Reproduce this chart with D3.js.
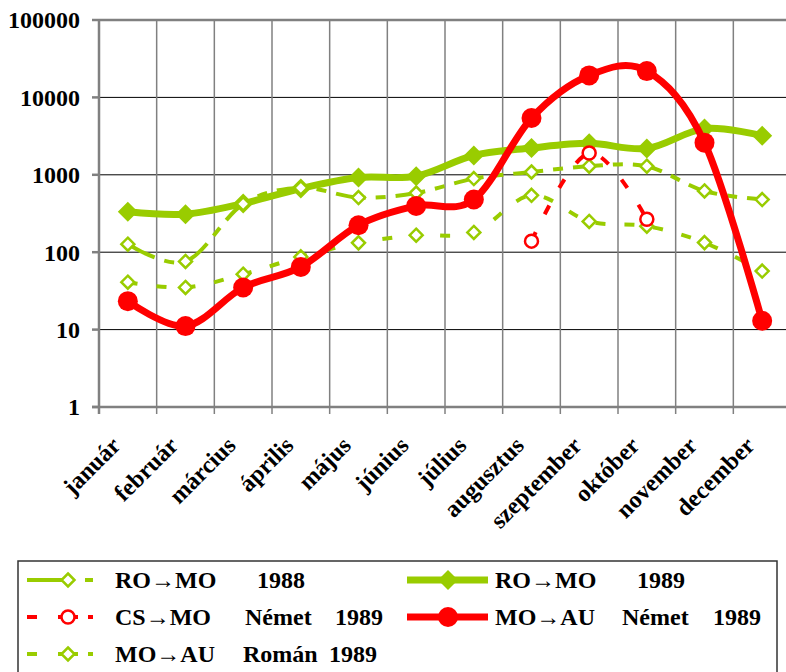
<!DOCTYPE html>
<meta charset="utf-8">
<html lang="hu">
  <head>
    <style>
      body { margin: 0; background-color: #fff; }
      svg text { font-family: 'Liberation Serif', 'DejaVu Serif', 'Times New Roman', serif; font-weight: 700; fill: #000; }
      .grid-h { stroke: #000; stroke-width: 1px; }
      .grid-v { stroke: #808080; stroke-width: 1.5px; }
      .axis-line { stroke: #808080; stroke-width: 2.5px; }
    </style>
  </head>
  <body>
    <script src="https://cdn.jsdelivr.net/npm/d3@7"></script>
    <svg></svg>
    <script>

      // data
      var months = ["január", "február", "március", "április", "május", "június",
        "július", "augusztus", "szeptember", "október", "november", "december"];
      var yTicks = [1, 10, 100, 1000, 10000, 100000];

      var roMo1988 = [127, 76, 420, 680, 508, 582, 893, 1087, 1290, 1290, 618, 479];
      var roMo1989 = [333, 310, 425, 664, 920, 960, 1780, 2220, 2550, 2190, 3950, 3200];
      var csMoNemet1989 = [null, null, null, null, null, null, null, 139, 1910, 267, null, null];
      var moAuNemet1989 = [23.3, 11.1, 35, 64.6, 223, 396, 479, 5410, 19230, 21870, 2600, 13];
      var moAuRoman1989 = [41, 35, 52, 87, 132, 166, 180, 544, 250, 217, 133, 57];

      var green = "#99cc00", red = "#ff0000";

      var series = [
        { name: "RO→MO 1989", values: roMo1989, color: green, width: 7, dash: null, marker: "diamondFilled" },
        { name: "RO→MO 1988", values: roMo1988, color: green, width: 4, dash: "30,10,10,10", marker: "diamondOpen" },
        { name: "MO→AU Román 1989", values: moAuRoman1989, color: green, width: 4, dash: "10,19", marker: "diamondOpen" },
        { name: "CS→MO Német 1989", values: csMoNemet1989, color: red, width: 4, dash: "10,20", marker: "circleOpen" },
        { name: "MO→AU Német 1989", values: moAuNemet1989, color: red, width: 7, dash: null, marker: "circleFilled" }
      ];

      var width = 786, height = 672;
      var plotLeft = 99, plotRight = 791, plotTop = 20, plotBottom = 407;

      var svg = d3.select("svg")
        .attr("width", width)
        .attr("height", height);

      var x = d3.scaleBand().domain(months).range([plotLeft, plotRight]);
      var y = d3.scaleLog().domain([1, 100000]).range([plotBottom, plotTop]);
      var cx = function(i) { return x(months[i]) + x.bandwidth() / 2; };

      // horizontal grid
      svg.selectAll(".grid-h")
        .data(yTicks.slice(1, -1))
        .enter().append("line")
        .attr("class", "grid-h")
        .attr("x1", plotLeft).attr("x2", plotRight)
        .attr("y1", function(d) { return y(d); })
        .attr("y2", function(d) { return y(d); });

      // vertical grid
      svg.selectAll(".grid-v")
        .data(months.slice(1))
        .enter().append("line")
        .attr("class", "grid-v")
        .attr("x1", function(d) { return x(d); })
        .attr("x2", function(d) { return x(d); })
        .attr("y1", plotTop).attr("y2", plotBottom + 7);

      // frame / axes
      svg.append("line").attr("class", "axis-line")
        .attr("x1", plotLeft).attr("x2", plotRight).attr("y1", plotTop).attr("y2", plotTop);
      svg.append("line").attr("class", "axis-line")
        .attr("x1", plotLeft).attr("x2", plotLeft).attr("y1", plotTop).attr("y2", plotBottom + 7);
      svg.append("line").attr("class", "axis-line")
        .attr("x1", plotLeft - 7).attr("x2", plotRight).attr("y1", plotBottom).attr("y2", plotBottom);

      // y ticks and labels
      svg.selectAll(".ytick")
        .data(yTicks)
        .enter().append("line")
        .attr("class", "axis-line")
        .attr("x1", plotLeft - 7).attr("x2", plotLeft)
        .attr("y1", function(d) { return y(d); })
        .attr("y2", function(d) { return y(d); });

      svg.selectAll(".ylabel")
        .data(yTicks)
        .enter().append("text")
        .attr("class", "ylabel")
        .attr("x", 80)
        .attr("y", function(d) { return y(d); })
        .attr("dy", "0.35em")
        .attr("text-anchor", "end")
        .style("font-size", "24px")
        .text(function(d) { return d; });

      // month labels
      svg.selectAll(".xlabel")
        .data(months)
        .enter().append("text")
        .attr("class", "xlabel")
        .attr("text-anchor", "end")
        .attr("dy", "0.35em")
        .style("font-size", "24px")
        .attr("transform", function(d, i) {
          return "translate(" + (cx(i) - 12) + "," + 441 + ") rotate(-45)";
        })
        .text(function(d) { return d; });

      var line = d3.line()
        .defined(function(d) { return d != null; })
        .x(function(d, i) { return cx(i); })
        .y(function(d) { return y(d); })
        .curve(d3.curveCardinal.tension(0));

      function drawMarker(g, type, color, px, py) {
        if (type == "diamondFilled") {
          g.append("path")
            .attr("d", "M" + px + "," + (py - 10) + "L" + (px + 10) + "," + py + "L" + px + "," + (py + 10) + "L" + (px - 10) + "," + py + "Z")
            .attr("fill", color);
        } else if (type == "diamondOpen") {
          g.append("path")
            .attr("d", "M" + px + "," + (py - 6.5) + "L" + (px + 6.5) + "," + py + "L" + px + "," + (py + 6.5) + "L" + (px - 6.5) + "," + py + "Z")
            .attr("fill", "#fff").attr("stroke", color).attr("stroke-width", 2.5);
        } else if (type == "circleOpen") {
          g.append("circle").attr("cx", px).attr("cy", py).attr("r", 6.5)
            .attr("fill", "#fff").attr("stroke", color).attr("stroke-width", 2.5);
        } else {
          g.append("circle").attr("cx", px).attr("cy", py).attr("r", 10)
            .attr("fill", color);
        }
      }

      series.forEach(function(s) {
        var g = svg.append("g");
        g.append("path")
          .datum(s.values)
          .attr("d", line)
          .attr("fill", "none")
          .attr("stroke", s.color)
          .attr("stroke-width", s.width)
          .attr("stroke-dasharray", s.dash);
        s.values.forEach(function(v, i) {
          if (v != null) drawMarker(g, s.marker, s.color, cx(i), y(v));
        });
      });

      // legend
      var legend = svg.append("g");
      legend.append("rect")
        .attr("x", 18).attr("y", 561)
        .attr("width", 759).attr("height", 130)
        .attr("fill", "#fff").attr("stroke", "#333").attr("stroke-width", 1.5);

      var legendItems = [
        { s: series[1], x: 27, y: 580, parts: [["RO→MO", 115], ["1988", 257]] },
        { s: series[0], x: 407, y: 580, parts: [["RO→MO", 495], ["1989", 637]] },
        { s: series[3], x: 27, y: 617, parts: [["CS→MO", 115], ["Német", 245], ["1989", 335]] },
        { s: series[4], x: 407, y: 617, parts: [["MO→AU", 495], ["Német", 622], ["1989", 713]] },
        { s: series[2], x: 27, y: 654, parts: [["MO→AU", 115], ["Román", 243], ["1989", 329]] }
      ];

      legendItems.forEach(function(it) {
        var g = legend.append("g");
        var len = it.s.dash ? 66 : 81;
        g.append("line")
          .attr("x1", it.x).attr("x2", it.x + len)
          .attr("y1", it.y).attr("y2", it.y)
          .attr("stroke", it.s.color)
          .attr("stroke-width", it.s.width)
          .attr("stroke-dasharray", it.s.dash ? (it.s.dash == "30,10,10,10" ? "38,20,10,10" : "10,21,20,10,10") : null);
        drawMarker(g, it.s.marker, it.s.color, it.x + 41, it.y);
        var t = g.append("text")
          .attr("y", it.y)
          .attr("dy", "0.35em")
          .style("font-size", "24px");
        it.parts.forEach(function(p) {
          t.append("tspan").attr("x", p[1]).text(p[0]);
        });
      });

    </script>
  </body>
</html>
